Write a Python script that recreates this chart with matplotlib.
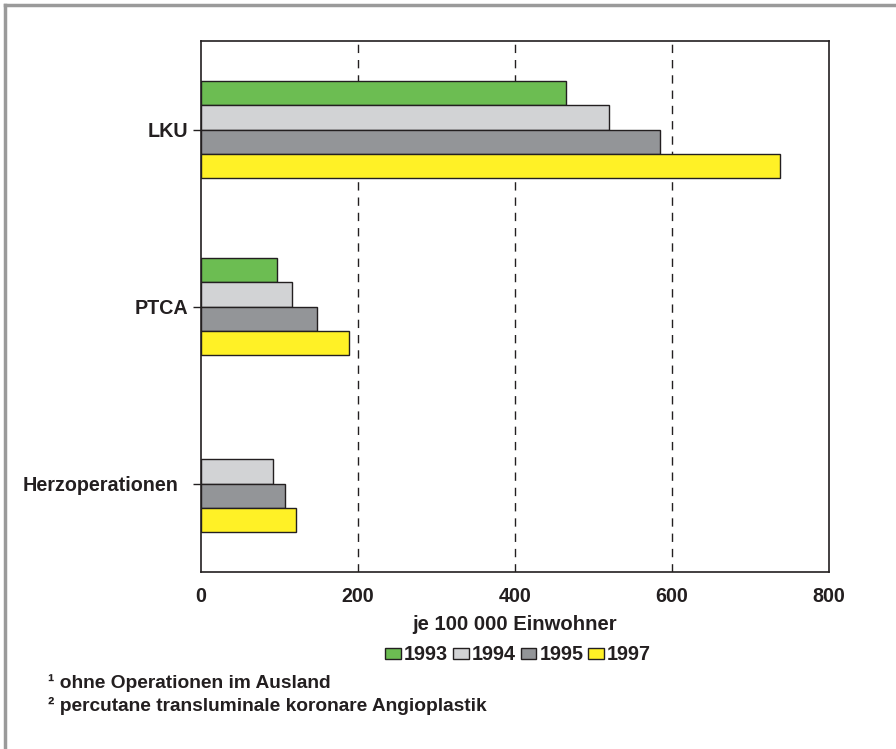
import numpy as np
import matplotlib
matplotlib.use("Agg")
import matplotlib.pyplot as plt
from matplotlib.lines import Line2D
from matplotlib.transforms import ScaledTranslation

plt.rcParams['font.family'] = ['Liberation Sans', 'DejaVu Sans']
plt.rcParams['font.weight'] = 'bold'

# data (je 100 000 Einwohner)
categories = ["LKU", "PTCA", "Herzoperationen"]
years = ["1993", "1994", "1995", "1997"]
v1993 = [465, 97, 0]
v1994 = [520, 116, 92]
v1995 = [585, 148, 107]
v1997 = [737, 188, 121]
colors = ["#6cbd52", "#d2d3d5", "#939598", "#fff126"]
footnotes = ["¹ ohne Operationen im Ausland",
             "² percutane transluminale koronare Angioplastik"]

FS = 14.2
ink = "#231f20"

fig = plt.figure(figsize=(8.96, 7.49), dpi=100)
ax = fig.add_axes([201 / 896, 1 - 572 / 749, 628 / 896, 531 / 749])

y = np.arange(len(categories))
h = 0.138
series = [v1993, v1994, v1995, v1997]
for i, (vals, c, yr) in enumerate(zip(series, colors, years)):
    vals = np.array(vals, dtype=float)
    mask = vals > 0
    ax.barh(y[mask] + (i - 1.5) * h, vals[mask], height=h, color=c,
            edgecolor=ink, linewidth=1.0, label=yr, zorder=3)

ax.set_xlim(0, 800)
ax.set_ylim(2.5, -0.5)
ax.set_xticks([0, 200, 400, 600, 800])
ax.set_yticks(y)
ax.set_yticklabels(categories)
ax.tick_params(axis="x", length=0, pad=11, labelsize=FS, colors=ink)
ax.tick_params(axis="y", length=6, width=1, pad=3, labelsize=FS, colors=ink)
# the Herzoperationen label sits a bit further left in the original
lab = ax.get_yticklabels()[2]
lab.set_transform(lab.get_transform() + ScaledTranslation(-7 / 72, 0, fig.dpi_scale_trans))

for x in [200, 400, 600]:
    ax.axvline(x, color=ink, linestyle=(0, (6, 5)), linewidth=1, zorder=1)
for s in ax.spines.values():
    s.set_color(ink)
    s.set_linewidth(1.2)

ax.set_xlabel("je 100 000 Einwohner", fontsize=14.6, fontweight="bold",
              color=ink, labelpad=6)

leg = fig.legend(loc="center", bbox_to_anchor=(518 / 896, 1 - 655 / 749),
                 ncol=4, frameon=False, fontsize=FS, handlelength=0.8,
                 handleheight=0.5, handletextpad=0.15, columnspacing=0.25,
                 borderpad=0)
for t in leg.get_texts():
    t.set_color(ink)

fig.text(48 / 896, 1 - 683 / 749, footnotes[0], fontsize=FS - 0.4,
         fontweight="bold", color=ink, va="center")
fig.text(48 / 896, 1 - 706 / 749, footnotes[1], fontsize=FS - 0.4,
         fontweight="bold", color=ink, va="center")

# grey outer frame
fig.add_artist(Line2D([5 / 896, 5 / 896], [0, 1 - 5 / 749],
                      transform=fig.transFigure, color="#9a9a9a", linewidth=2.5))
fig.add_artist(Line2D([5 / 896, 1], [1 - 5 / 749, 1 - 5 / 749],
                      transform=fig.transFigure, color="#9a9a9a", linewidth=2.5))

fig.savefig("out.png", dpi=100)
